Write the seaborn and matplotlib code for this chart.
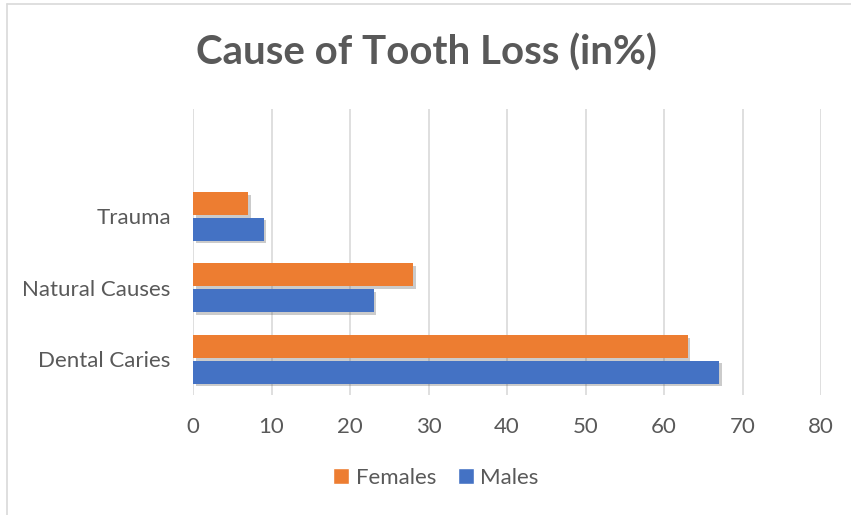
import matplotlib
matplotlib.use("Agg")
import matplotlib.pyplot as plt
import matplotlib.patheffects as pe
from matplotlib.patches import Patch
import pandas as pd
import seaborn as sns

# dados
causas = ["Trauma", "Natural Causes", "Dental Caries"]
homens = [9, 23, 67]
mulheres = [7, 28, 63]
ticks_x = [0, 10, 20, 30, 40, 50, 60, 70, 80]

dados = pd.DataFrame({
    "Causa": causas * 2,
    "Valor": mulheres + homens,
    "Sexo": ["Females"] * 3 + ["Males"] * 3,
})

sns.set_theme(style="white")
plt.rcParams["font.family"] = ["Lato", "DejaVu Sans"]

cinza = "#595959"
cores = {"Females": "#ED7D31", "Males": "#4472C4"}

fig = plt.figure(figsize=(8.51, 5.15), dpi=100)
ax = fig.add_axes([193 / 851, 1 - 395 / 515, 628 / 851, 286 / 515])

sns.barplot(data=dados, x="Valor", y="Causa", hue="Sexo", order=causas,
            hue_order=["Females", "Males"], palette=cores, width=0.72, gap=0.1,
            saturation=1, linewidth=0, edgecolor="none", orient="h", ax=ax, legend=False)

sombra = [pe.SimplePatchShadow(offset=(2, -2), alpha=0.3, shadow_rgbFace="#555555"), pe.Normal()]
for barra in ax.patches:
    barra.set_path_effects(sombra)

# espaço vazio acima de Trauma, como no Excel
ax.set_ylim(2.5, -1.5)
ax.set_xlim(0, 80)
ax.set_xticks(ticks_x)
ax.grid(axis="x", color="#D9D9D9", linewidth=1.2)
ax.set_axisbelow(True)
for lado in ["top", "right", "bottom", "left"]:
    ax.spines[lado].set_visible(False)
ax.tick_params(axis="both", length=0, labelsize=16, labelcolor=cinza)
ax.tick_params(axis="x", pad=16)
ax.tick_params(axis="y", pad=16)
ax.set_xlabel("")
ax.set_ylabel("")

handles = [Patch(facecolor=cores["Females"]), Patch(facecolor=cores["Males"])]
fig.legend(handles, ["Females", "Males"], loc="center", bbox_to_anchor=(436 / 851, 1 - 478 / 515),
           ncol=2, frameon=False, fontsize=16, labelcolor=cinza, handlelength=0.7,
           handleheight=0.7, handletextpad=0.3, columnspacing=1.0)

fig.text(426 / 851, 1 - 53 / 515, "Cause of Tooth Loss (in%)", ha="center", va="center",
         fontsize=29, fontweight="bold", color=cinza)

# borda do quadro do gráfico (topo e esquerda)
fig.add_artist(plt.Line2D([7 / 851, 1], [1 - 4 / 515, 1 - 4 / 515], color="#D9D9D9", linewidth=1.2))
fig.add_artist(plt.Line2D([7 / 851, 7 / 851], [0, 1 - 4 / 515], color="#D9D9D9", linewidth=1.2))

fig.savefig("out.png", dpi=100)
